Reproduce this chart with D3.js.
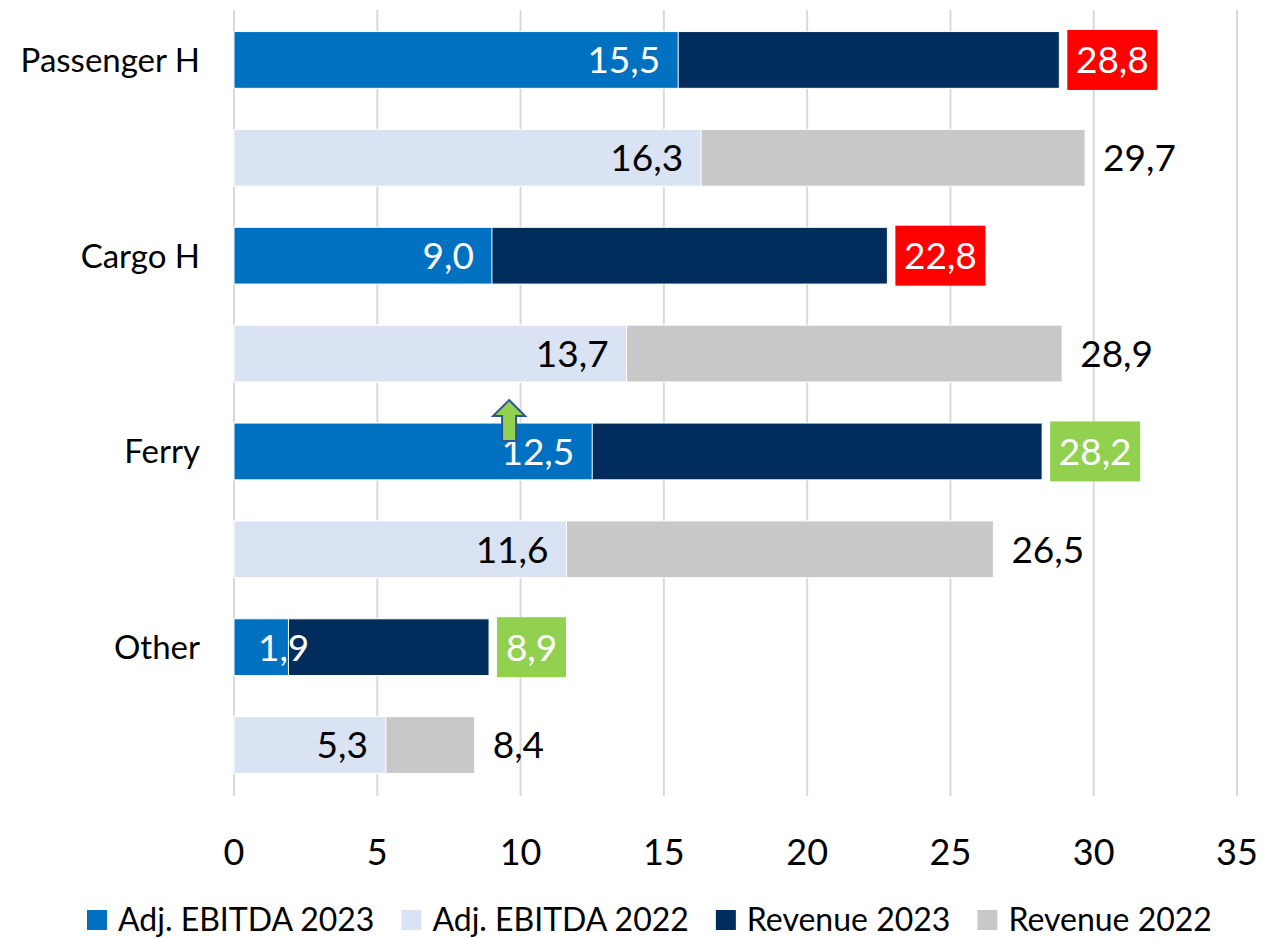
<!DOCTYPE html>
<html>
<head>
<meta charset="utf-8">
<title>EBITDA vs Revenue</title>
<script src="https://d3js.org/d3.v7.min.js"></script>
<style>
  body { margin: 0; background: #fff; }
  text { font-family: "Lato", "Open Sans", sans-serif; }
</style>
</head>
<body>
<svg width="1263" height="939"></svg>
<script>
var categories = ["Passenger H", "Cargo H", "Ferry", "Other"];
var ebitda2023 = [15.5, 9.0, 12.5, 1.9];
var ebitda2022 = [16.3, 13.7, 11.6, 5.3];
var revenue2023 = [28.8, 22.8, 28.2, 8.9];
var revenue2022 = [29.7, 28.9, 26.5, 8.4];
var revFlag2023 = ["down", "down", "up", "up"];
var xTicks = [0, 5, 10, 15, 20, 25, 30, 35];
var seriesNames = ["Adj. EBITDA 2023", "Adj. EBITDA 2022", "Revenue 2023", "Revenue 2022"];
var seriesColors = ["#0070C0", "#DAE3F3", "#002D5E", "#C8C8C8"];

var svg = d3.select("svg");
var x = d3.scaleLinear().domain([0, 35]).range([234, 1237]);

// one row per category+year
var rows = [];
categories.forEach(function(c, i) {
  rows.push({ key: c + "|2023", cat: c, year: 2023, eb: ebitda2023[i], rev: revenue2023[i], flag: revFlag2023[i] });
  rows.push({ key: c + "|2022", cat: c, year: 2022, eb: ebitda2022[i], rev: revenue2022[i], flag: null });
});

var y = d3.scaleBand().domain(rows.map(function(d) { return d.key; }))
  .range([11, 794]).paddingInner(0.42).paddingOuter(0.21);

function fmt(v) { return v.toFixed(1).replace(".", ","); }

// gridlines
svg.append("g").selectAll("line").data(xTicks).enter().append("line")
  .attr("x1", function(d) { return x(d); }).attr("x2", function(d) { return x(d); })
  .attr("y1", 10).attr("y2", 796)
  .attr("stroke", "#D9D9D9").attr("stroke-width", 2);

// x axis labels
svg.append("g").selectAll("text").data(xTicks).enter().append("text")
  .attr("x", function(d) { return x(d); }).attr("y", 865)
  .attr("text-anchor", "middle").attr("font-size", 36).attr("fill", "#000")
  .text(function(d) { return d; });

var g = svg.append("g");

// revenue bars
g.selectAll(".rev").data(rows).enter().append("rect")
  .attr("x", x(0))
  .attr("y", function(d) { return y(d.key); })
  .attr("width", function(d) { return x(d.rev) - x(0); })
  .attr("height", y.bandwidth())
  .attr("fill", function(d) { return d.year === 2023 ? seriesColors[2] : seriesColors[3]; })
  .attr("stroke", "#fff").attr("stroke-width", 1);

// ebitda bars
g.selectAll(".eb").data(rows).enter().append("rect")
  .attr("x", x(0))
  .attr("y", function(d) { return y(d.key); })
  .attr("width", function(d) { return x(d.eb) - x(0); })
  .attr("height", y.bandwidth())
  .attr("fill", function(d) { return d.year === 2023 ? seriesColors[0] : seriesColors[1]; })
  .attr("stroke", "#fff").attr("stroke-width", 1);

// ebitda labels (inside end, but never left of the bar start)
g.selectAll(".ebl").data(rows).enter().append("text")
  .attr("y", function(d) { return y(d.key) + y.bandwidth() / 2; })
  .attr("dy", "0.36em")
  .attr("text-anchor", "start").attr("font-size", 37)
  .attr("fill", function(d) { return d.year === 2023 ? "#fff" : "#000"; })
  .text(function(d) { return fmt(d.eb); })
  .attr("x", function(d) {
    var w = this.getComputedTextLength();
    return Math.max(x(0) + 24, x(d.eb) - 18 - w);
  });

// revenue labels (with colored box for 2023)
var revL = g.selectAll(".revl").data(rows).enter().append("g")
  .attr("transform", function(d) {
    return "translate(" + (x(d.rev) + 8) + "," + (y(d.key) + y.bandwidth() / 2) + ")";
  });
revL.filter(function(d) { return d.flag; }).append("rect")
  .attr("x", 0).attr("y", -30)
  .attr("width", function(d) { return d.rev < 10 ? 69 : 90; })
  .attr("height", 60)
  .attr("fill", function(d) { return d.flag === "down" ? "#FF0000" : "#92D050"; });
revL.append("text")
  .attr("x", function(d) { return d.flag ? (d.rev < 10 ? 34.5 : 45) : 10; })
  .attr("dy", "0.36em")
  .attr("text-anchor", function(d) { return d.flag ? "middle" : "start"; })
  .attr("font-size", 37)
  .attr("fill", function(d) { return d.flag ? "#fff" : "#000"; })
  .text(function(d) { return fmt(d.rev); });

// category labels
svg.append("g").selectAll("text").data(categories).enter().append("text")
  .attr("x", 200)
  .attr("y", function(c) { return y(c + "|2023") + y.bandwidth() / 2; })
  .attr("dy", "0.36em")
  .attr("text-anchor", "end").attr("font-size", 33).attr("fill", "#000")
  .text(function(c) { return c; });

// up arrow near Ferry EBITDA
var ax = x(9.6), ay = y("Ferry|2023");
svg.append("path")
  .attr("d", "M" + ax + "," + (ay - 23) +
    " L" + (ax + 16) + "," + (ay - 7) +
    " L" + (ax + 7) + "," + (ay - 7) +
    " L" + (ax + 7) + "," + (ay + 18) +
    " L" + (ax - 7) + "," + (ay + 18) +
    " L" + (ax - 7) + "," + (ay - 7) +
    " L" + (ax - 16) + "," + (ay - 7) + " Z")
  .attr("fill", "#92D050").attr("stroke", "#2F5597").attr("stroke-width", 2);

// legend
var legend = svg.append("g");
var lx = 87;
seriesNames.forEach(function(name, i) {
  var item = legend.append("g").attr("transform", "translate(" + lx + ",0)");
  item.append("rect").attr("x", 0).attr("y", 910).attr("width", 20).attr("height", 20)
    .attr("fill", seriesColors[i]);
  var t = item.append("text").attr("x", 31).attr("y", 931)
    .attr("font-size", 32).attr("fill", "#000").text(name);
  lx += 31 + t.node().getComputedTextLength() + 27;
});
</script>
</body>
</html>
